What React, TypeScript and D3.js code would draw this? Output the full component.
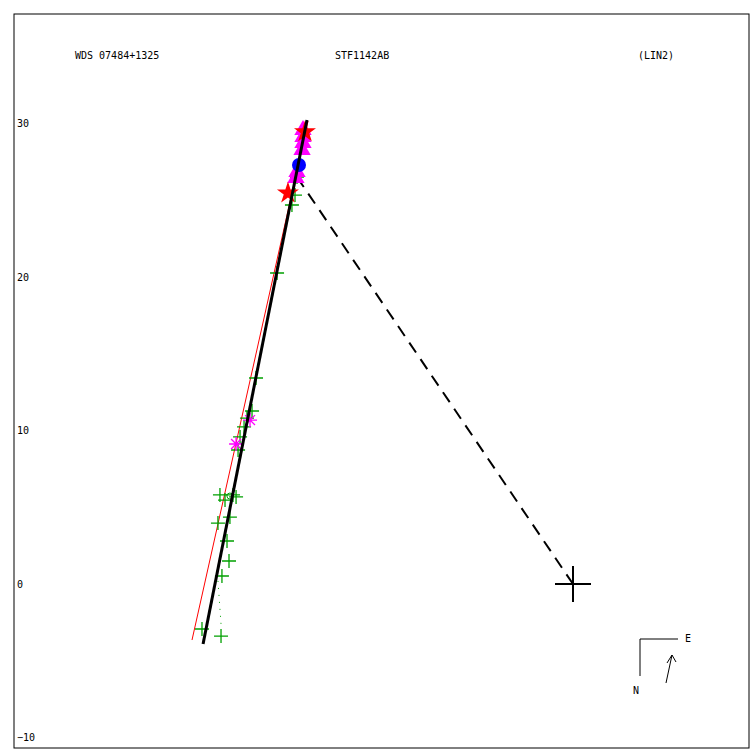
import React, { useEffect, useRef } from 'react';
import * as d3 from 'd3';

// plot labels
const titles = ['WDS 07484+1325', 'STF1142AB', '(LIN2)'];
const yTicks = [-10, 0, 10, 20, 30];

// observed positions (arcsec), green plus marks
const obsX = [-23.0, -22.67, -22.15, -21.95, -23.13, -22.35, -22.54, -22.41, -22.87, -24.17, -22.93,
  -20.91, -21.24, -21.43, -21.69, -21.82, -20.65, -19.28, -17.98, -18.11, -18.31];
const obsY = [5.80, 5.47, 5.80, 5.67, 3.97, 4.36, 2.80, 1.50, 0.52, -2.93, -3.39,
  11.27, 10.81, 10.23, 9.58, 8.73, 13.42, 20.26, 26.51, 25.34, 24.69];

// other observation types
const asterX = [-21.95, -21.04];
const asterY = [9.12, 10.68];
const triX = [-17.59, -17.59, -17.59, -17.65, -17.98, -18.05];
const triY = [29.58, 29.12, 28.73, 28.27, 26.84, 26.45];
const starX = [-17.46, -18.57];
const starY = [29.45, 25.47];
const dotX = [-17.85];
const dotY = [27.30];

// fitted path (black) and old path (red)
const orbitX = [-24.10, -17.33];
const orbitY = [-3.91, 30.23];
const oldX = [-24.82, -17.26];
const oldY = [-3.65, 30.16];
// periastron connection and one residual
const dashX = [-17.98, 0];
const dashY = [26.51, 0];
const residX = [-23.13, -22.93];
const residY = [0.20, -2.61];

const App = () => {
  const svgRef = useRef(null);

  useEffect(() => {
    const width = 750;
    const height = 750;
    const left = 14, top = 14, right = 749, bottom = 748;
    const k = 15.35;
    const cx = 573, cy = 584;

    const x = d3.scaleLinear()
      .domain([(left - cx) / k, (right - cx) / k])
      .range([left, right]);
    const y = d3.scaleLinear()
      .domain([(cy - bottom) / k, (cy - top) / k])
      .range([bottom, top]);

    const svg = d3.select(svgRef.current)
      .attr('width', width)
      .attr('height', height)
      .attr('viewBox', [0, 0, width, height])
      .style('font-family', '"DejaVu Sans Mono", monospace')
      .style('font-size', '10px');
    svg.selectAll('*').remove();

    svg.append('rect').attr('width', width).attr('height', height).attr('fill', '#fff');
    svg.append('rect')
      .attr('x', left).attr('y', top)
      .attr('width', right - left).attr('height', bottom - top)
      .attr('fill', 'none').attr('stroke', '#000').attr('stroke-width', 1);

    // y labels
    svg.append('g')
      .attr('transform', `translate(${left},0)`)
      .call(d3.axisRight(y).tickValues(yTicks).tickSize(0).tickPadding(3))
      .call(g => g.select('.domain').remove())
      .call(g => g.selectAll('text').attr('fill', '#000').style('font-family', '"DejaVu Sans Mono", monospace').style('font-size', '10px'));

    // titles
    const tx = [75, 335, 638];
    svg.append('g').attr('fill', '#000').selectAll('text').data(titles).join('text')
      .attr('x', (d, i) => tx[i]).attr('y', 59)
      .text(d => d);

    const line = d3.line();
    const pts = (xs, ys) => xs.map((v, i) => [x(v), y(ys[i])]);

    svg.append('path').attr('d', line(pts(oldX, oldY)))
      .attr('stroke', '#f00').attr('stroke-width', 1).attr('fill', 'none');
    svg.append('path').attr('d', line(pts(residX, residY)))
      .attr('stroke', '#00a000').attr('stroke-width', 1).attr('stroke-dasharray', '1,6').attr('fill', 'none');
    svg.append('path').attr('d', line(pts(dashX, dashY)))
      .attr('stroke', '#000').attr('stroke-width', 2).attr('stroke-dasharray', '12,8').attr('fill', 'none');

    // green plus marks
    svg.append('g').attr('stroke', '#00a000').attr('stroke-width', 1.3)
      .selectAll('path').data(obsX).join('path')
      .attr('d', (d, i) => {
        const px = x(d), py = y(obsY[i]);
        return `M${px - 7},${py}H${px + 7}M${px},${py - 7}V${py + 7}`;
      });
    svg.append('circle').attr('cx', x(-22.35)).attr('cy', y(5.73)).attr('r', 3)
      .attr('fill', 'none').attr('stroke', '#00a000');

    // magenta asterisks
    svg.append('g').attr('stroke', '#f0f').attr('stroke-width', 1.3)
      .selectAll('path').data(asterX).join('path')
      .attr('d', (d, i) => {
        const px = x(d), py = y(asterY[i]);
        let s = '';
        for (let a = 0; a < 4; a++) {
          const t = a * Math.PI / 4;
          const dx = 7 * Math.cos(t), dy = 7 * Math.sin(t);
          s += `M${px - dx},${py - dy}L${px + dx},${py + dy}`;
        }
        return s;
      });

    // magenta triangles
    svg.append('g').attr('fill', '#f0f')
      .selectAll('path').data(triX).join('path')
      .attr('transform', (d, i) => `translate(${x(d)},${y(triY[i])})`)
      .attr('d', d3.symbol(d3.symbolTriangle, 130));

    // red stars
    svg.append('g').attr('fill', '#f00')
      .selectAll('path').data(starX).join('path')
      .attr('transform', (d, i) => `translate(${x(d)},${y(starY[i])})`)
      .attr('d', d3.symbol(d3.symbolStar, 150));

    // blue dot
    svg.append('g').attr('fill', '#00f')
      .selectAll('circle').data(dotX).join('circle')
      .attr('cx', d => x(d)).attr('cy', (d, i) => y(dotY[i])).attr('r', 7);

    // fitted path
    svg.append('path').attr('d', line(pts(orbitX, orbitY)))
      .attr('stroke', '#000').attr('stroke-width', 3).attr('fill', 'none');

    // primary
    svg.append('path')
      .attr('d', `M${x(0) - 18},${y(0)}H${x(0) + 18}M${x(0)},${y(0) - 18}V${y(0) + 18}`)
      .attr('stroke', '#000').attr('stroke-width', 2);

    // compass
    const cg = svg.append('g').attr('stroke', '#000').attr('fill', 'none').attr('stroke-width', 1);
    cg.append('path').attr('d', 'M640,676V639H678');
    cg.append('path').attr('d', 'M666,683L672,655M667,663L672,655L676,662');
    svg.append('text').attr('x', 685).attr('y', 642).attr('fill', '#000').text('E');
    svg.append('text').attr('x', 633).attr('y', 694).attr('fill', '#000').text('N');
  }, []);

  return (
    <svg ref={svgRef} style={{ position: 'absolute', left: 0, top: 0 }}></svg>
  );
};

export default App;
